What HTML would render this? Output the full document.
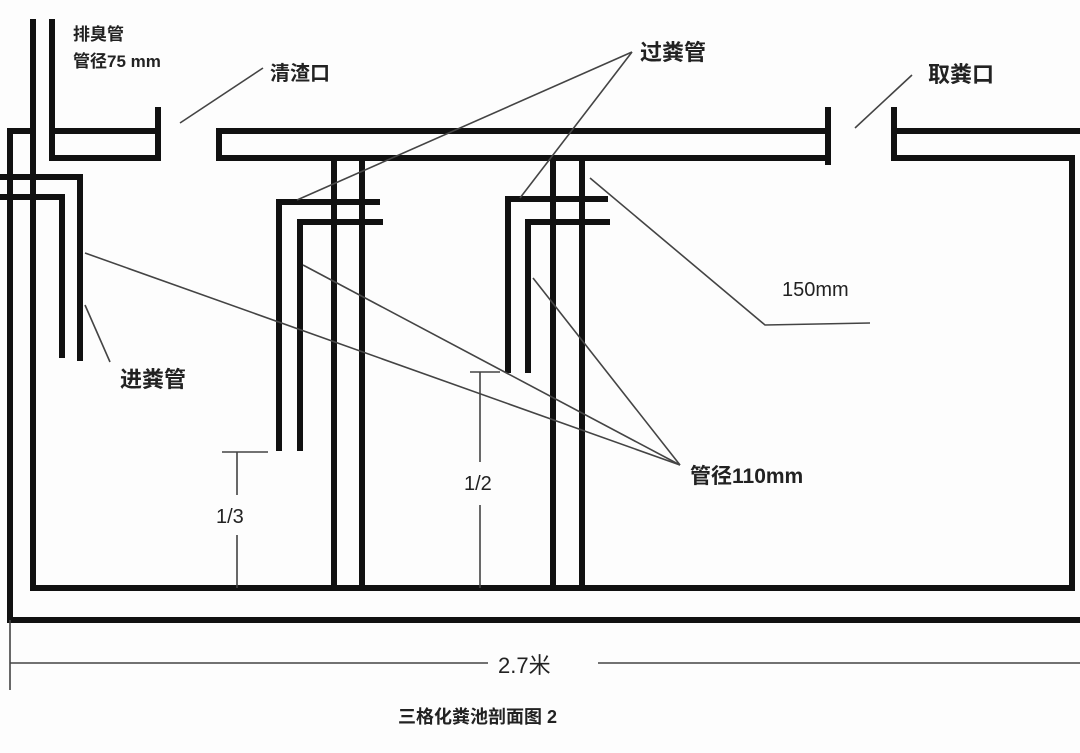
<!DOCTYPE html>
<html><head><meta charset="utf-8"><style>
html,body{margin:0;padding:0;background:#fff;}
svg{display:block;}
text{font-family:"Liberation Sans","Noto Sans CJK SC",sans-serif;fill:#222;}
</style></head><body>
<svg width="1080" height="753" viewBox="0 0 1080 753" xmlns="http://www.w3.org/2000/svg">
<rect width="1080" height="753" fill="#fdfdfd"/>
<g stroke="#111" stroke-width="6" fill="none" stroke-linecap="square">
<!-- vent pipe -->
<line x1="33" y1="22" x2="33" y2="588"/>
<line x1="52" y1="22" x2="52" y2="158"/>
<!-- outer left -->
<polyline points="33,131 10,131 10,620 1080,620"/>
<!-- left small slab -->
<polyline points="52,131 158,131"/>
<polyline points="52,158 158,158 158,110"/>
<!-- inlet pipe -->
<polyline points="0,177 80,177 80,358"/>
<polyline points="0,197 62,197 62,355"/>
<!-- middle slab -->
<polyline points="219,131 828,131"/>
<polyline points="219,131 219,158 828,158"/>
<line x1="828" y1="110" x2="828" y2="162"/>
<!-- right -->
<polyline points="894,110 894,158 1072,158 1072,588 33,588"/>
<line x1="894" y1="131" x2="1080" y2="131"/>
<!-- partition 1 -->
<line x1="334" y1="158" x2="334" y2="588"/>
<line x1="362" y1="158" x2="362" y2="588"/>
<polyline points="377,202 279,202 279,448"/>
<polyline points="380,222 300,222 300,448"/>
<!-- partition 2 -->
<line x1="553" y1="158" x2="553" y2="588"/>
<line x1="582" y1="158" x2="582" y2="588"/>
<polyline points="605,199 508,199 508,370"/>
<polyline points="607,222 528,222 528,370"/>
</g>
<g stroke="#444" stroke-width="1.6" fill="none">
<line x1="180" y1="123" x2="263" y2="68"/>
<line x1="855" y1="128" x2="912" y2="75"/>
<line x1="632" y1="52" x2="297" y2="200"/>
<line x1="632" y1="52" x2="520" y2="198"/>
<polyline points="590,178 765,325 870,323"/>
<line x1="85" y1="305" x2="110" y2="362"/>
<line x1="85" y1="253" x2="680" y2="465"/>
<line x1="303" y1="265" x2="680" y2="465"/>
<line x1="533" y1="278" x2="680" y2="465"/>
<!-- dims -->
<line x1="222" y1="452" x2="268" y2="452"/>
<line x1="237" y1="452" x2="237" y2="495"/>
<line x1="237" y1="535" x2="237" y2="588"/>
<line x1="470" y1="372" x2="500" y2="372"/>
<line x1="480" y1="372" x2="480" y2="462"/>
<line x1="480" y1="505" x2="480" y2="588"/>
<line x1="10" y1="620" x2="10" y2="690"/>
<line x1="10" y1="663" x2="488" y2="663"/>
<line x1="598" y1="663" x2="1080" y2="663"/>
</g>
<g font-weight="bold">
<text x="73" y="40" font-size="17">排臭管</text>
<text x="73" y="67" font-size="17">管径75 mm</text>
<text x="270" y="80" font-size="20">清渣口</text>
<text x="640" y="60" font-size="22">过粪管</text>
<text x="928" y="82" font-size="22">取粪口</text>
<text x="120" y="387" font-size="22">进粪管</text>
<text x="690" y="483" font-size="21">管径110mm</text>
<text x="398" y="723" font-size="18">三格化粪池剖面图 2</text>
</g>
<text x="782" y="296" font-size="20">150mm</text>
<text x="216" y="523" font-size="20">1/3</text>
<text x="464" y="490" font-size="20">1/2</text>
<text x="498" y="673" font-size="22">2.7米</text>
</svg>
</body></html>
